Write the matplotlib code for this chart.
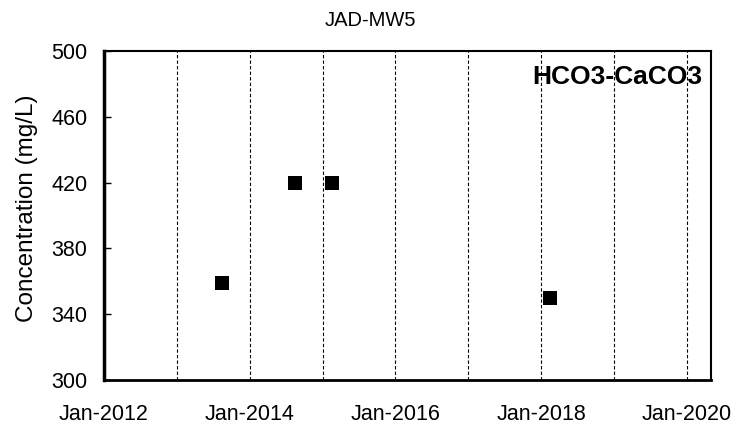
import matplotlib
matplotlib.use("Agg")
import matplotlib.pyplot as plt
import matplotlib.dates as mdates
import pandas as pd

plt.rcParams['font.family'] = ['Liberation Sans', 'DejaVu Sans']

dates = pd.to_datetime(["2013-08-15", "2014-08-15", "2015-02-15", "2018-02-15"])
values = [359, 420, 420, 350]
yticks = [300, 340, 380, 420, 460, 500]
title = "JAD-MW5"
label = "HCO3-CaCO3"

fig = plt.figure(figsize=(7.54, 4.26), dpi=100)
ax = fig.add_axes([104/754, 1-380/426, (711-104)/754, (380-51)/426])

ax.scatter(dates, values, marker='s', s=105, color='black', zorder=3, linewidths=0)

ax.set_xlim(pd.Timestamp("2012-01-01"), pd.Timestamp("2020-05-01"))
ax.set_ylim(300, 500)
ax.set_yticks(yticks)

grid_years = [pd.Timestamp(f"{y}-01-01") for y in range(2013, 2021)]
for g in grid_years:
    ax.axvline(g, color='black', linestyle=(0, (3, 2)), linewidth=0.8, zorder=1)

ax.xaxis.set_major_locator(mdates.YearLocator(2))
ax.xaxis.set_major_formatter(mdates.DateFormatter('%b-%Y'))
ax.tick_params(axis='x', length=0, labelsize=15.5, pad=17)
ax.tick_params(axis='y', direction='in', length=5, width=1, labelsize=15.5, pad=12)

ax.spines['left'].set_linewidth(2.5)
ax.spines['bottom'].set_linewidth(2)
ax.spines['top'].set_linewidth(1.5)
ax.spines['right'].set_linewidth(1.5)

ax.set_ylabel("Concentration (mg/L)", fontsize=17.5)
ax.yaxis.set_label_coords(-0.109, 0.523)
fig.text(370/754, 1-21/426, title, ha='center', va='center', fontsize=14.5)
ax.text(0.985, 0.92, label, transform=ax.transAxes, ha='right', va='center',
        fontsize=19, fontweight='bold')

fig.savefig("out.png", dpi=100)
